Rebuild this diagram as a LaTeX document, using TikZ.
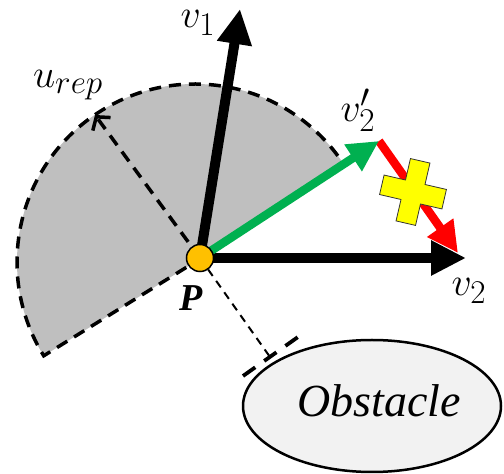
\documentclass[tikz,border=0pt]{standalone}
\usepackage{graphicx}
\usepackage{fontspec}
\newfontfamily\serif{Liberation Serif}
\usetikzlibrary{arrows.meta,shapes.geometric}
\definecolor{secgray}{HTML}{BFBFBF}
\definecolor{obsgray}{HTML}{F2F2F2}
\definecolor{vgreen}{HTML}{00B050}
\definecolor{vred}{HTML}{FF0000}
\definecolor{vyellow}{HTML}{FFFF00}
\definecolor{porange}{HTML}{FFC000}
\newcommand{\biglab}[1]{\scalebox{1.6}{\Huge$#1$}}
\tikzset{
  secedge/.style={line width=3.5pt, dash pattern=on 12pt off 8pt},
  urep/.style={line width=3.5pt, dash pattern=on 12pt off 8pt, -{Straight Barb[length=9pt,width=22pt,line width=3.5pt]}},
  thindash/.style={line width=2pt, dash pattern=on 8pt off 6pt},
  tangent/.style={line width=3.8pt, dash pattern=on 15pt off 11pt},
  bigvec/.style={line width=10pt, -{Triangle[length=35pt,width=33pt]}},
  colvec/.style={line width=8.5pt, -{Triangle[length=31pt,width=30pt]}},
  mlabel/.style={inner sep=0pt},
}
\begin{document}
\begin{tikzpicture}[x=1pt,y=1pt]
\useasboundingbox (0,0) rectangle (504,474);
% sector
\coordinate (C) at (195,212);
\fill[secgray] (C) -- ++(33:178) arc[start angle=33,end angle=211.8,radius=178] -- cycle;
\draw[secedge] (C) ++(36.6:178) arc[start angle=36.6,end angle=211.8,radius=178] -- (C);
% key points
\coordinate (P) at (200,216);
\coordinate (U) at (95,359);
\coordinate (V1) at (240,465);
\coordinate (V2) at (466,216);
\coordinate (V2p) at (379,333);
\coordinate (R) at (458,221);
\coordinate (F) at (270,117);
\coordinate (T1) at (243,98);
\coordinate (T2) at (298,137);
% repulsive vector
\draw[urep] (P) -- (U);
% distance to obstacle
\draw[thindash] (P) -- (F);
\draw[tangent] (T1) -- (T2);
% obstacle
\node[draw, ellipse, line width=2.5pt, fill=obsgray, minimum width=258pt, minimum height=132pt, inner sep=0pt] (obs) at (372,68) {};
\node[inner sep=0pt, font=\serif\itshape\fontsize{46}{50}\selectfont] (obstxt) at (379,73) {Obstacle};
% vectors
\draw[bigvec] (P) -- (V1);
\draw[bigvec] (P) -- (V2);
\draw[colvec, vred] (V2p) -- (R);
\draw[colvec, vgreen] (P) -- (V2p);
% cross
\begin{scope}[shift={(413,282)}, rotate=-13]
\filldraw[fill=vyellow, draw=black!80, line width=0.8pt]
  (-10,32) -- (10,32) -- (10,10) -- (32,10) -- (32,-10) -- (10,-10) -- (10,-32)
  -- (-10,-32) -- (-10,-10) -- (-32,-10) -- (-32,10) -- (-10,10) -- cycle;
\end{scope}
% point P
\node[circle, fill=porange, draw=black, line width=1.5pt, minimum size=27pt, inner sep=0pt] (Pc) at (P) {};
% labels
\node[inner sep=0pt, font=\serif\bfseries\itshape\fontsize{38}{40}\selectfont] (lP) at (191,176) {P};
\node[mlabel] (lurep) at (68,389) {\biglab{u_{rep}}};
\node[mlabel] (lv1) at (198,451) {\biglab{v_1}};
\node[mlabel] (lv2p) at (358,364) {\biglab{v_2'}};
\node[mlabel] (lv2) at (469,183) {\biglab{v_2}};
\end{tikzpicture}
\end{document}
